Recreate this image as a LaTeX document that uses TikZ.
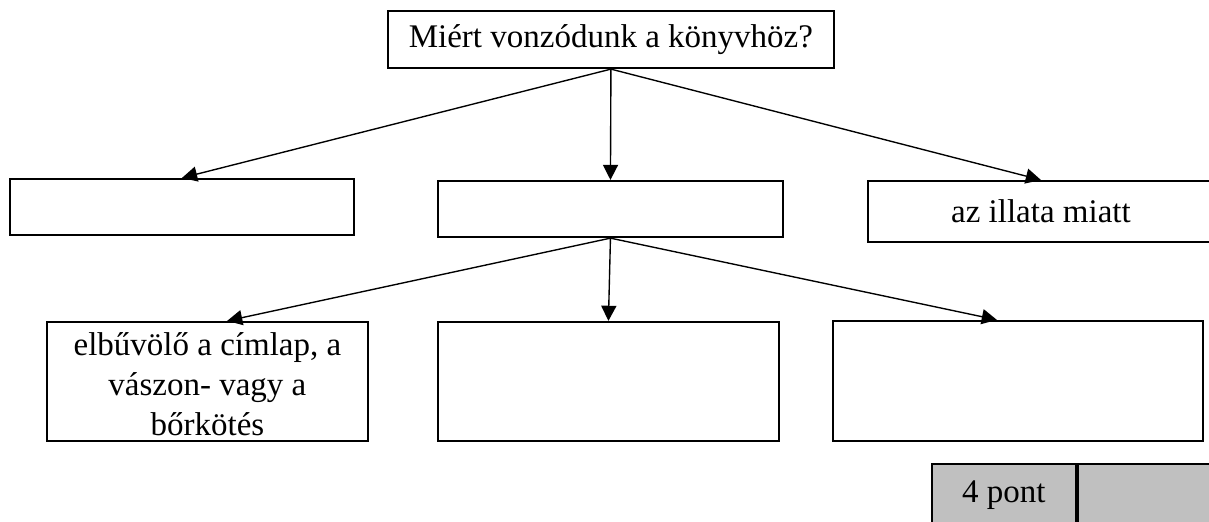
\documentclass[tikz,border=0pt]{standalone}
\usepackage{fontspec}
\setmainfont{Liberation Serif}
\usetikzlibrary{arrows.meta}
\definecolor{scoregray}{RGB}{192,192,192}
\begin{document}
\begin{tikzpicture}
        \tikzstyle{every node}=[font=\fontsize{12}{13.6}\selectfont]
        \tikzstyle{answerbox}=[draw, line width=0.8pt, inner sep=2pt, align=center]
        \tikzstyle{link}=[line width=0.5pt, -{Triangle[length=5.5pt, width=5.5pt]}]
        \tikzstyle{scorecell}=[draw, line width=0.8pt, fill=scoregray, inner sep=0pt, minimum width=1.84cm, minimum height=0.792cm]

        \useasboundingbox (0, 0) rectangle (15.45, -6.66);

        % question
        \node[answerbox, minimum width=5.699cm, minimum height=0.728cm] (question) at (7.807, -0.505) {Miért vonzódunk a könyvhöz?};

        % first level
        \node[answerbox, minimum width=4.396cm, minimum height=0.716cm] (left) at (2.326, -2.645) {};
        \node[answerbox, minimum width=4.408cm, minimum height=0.716cm] (middle) at (7.801, -2.671) {};
        \node[answerbox, minimum width=4.421cm, minimum height=0.779cm] (smell) at (13.302, -2.703) {az illata miatt};

        % second level
        \node[answerbox, minimum width=4.102cm, minimum height=1.521cm] (cover) at (2.651, -4.875) {};
        \node[align=center, yshift=-1pt] (covertext) at (cover) {elbűvölő a címlap, a\\[1pt]vászon- vagy a\\[1pt]bőrkötés};
        \node[answerbox, minimum width=4.357cm, minimum height=1.521cm] (lowmid) at (7.775, -4.875) {};
        \node[answerbox, minimum width=4.728cm, minimum height=1.533cm] (lowright) at (13.008, -4.868) {};

        % score
        \node[scorecell] (points) at (12.829, -6.325) {4 pont};
        \node[scorecell, anchor=west] (mark) at (points.east) {};

        \draw[link] (question.south) -- (left.north);
        \draw[link] (question.south) -- (middle.north);
        \draw[link] (question.south) -- (smell.north);

        \draw[link] (middle.south) -- (cover.72);
        \draw[link] (middle.south) -- (lowmid.north);
        \draw[link] (middle.south) -- (lowright.109);
    \end{tikzpicture}
\end{document}
